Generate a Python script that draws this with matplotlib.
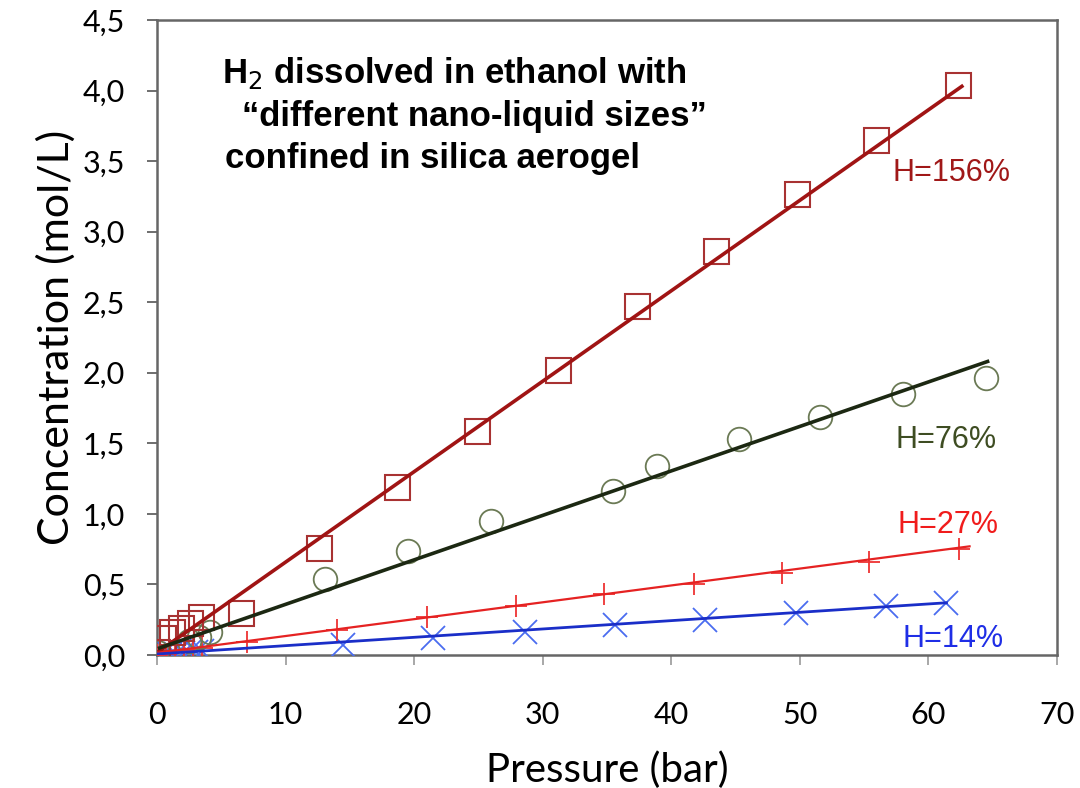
import matplotlib.pyplot as plt

# --- data ---
p_156 = [0.0, 0.5, 1.2, 1.9, 2.6, 3.4, 6.5, 12.6, 18.7, 24.9, 31.2, 37.3, 43.5, 49.8, 55.9, 62.3]
c_156 = [0.02, 0.12, 0.16, 0.19, 0.23, 0.27, 0.30, 0.76, 1.19, 1.59, 2.02, 2.47, 2.86, 3.27, 3.65, 4.04]

p_76 = [0.0, 2.5, 3.3, 4.1, 13.1, 19.5, 26.0, 35.5, 38.9, 45.3, 51.6, 58.0, 64.5]
c_76 = [0.02, 0.10, 0.13, 0.16, 0.54, 0.74, 0.95, 1.16, 1.34, 1.53, 1.69, 1.85, 1.96]

p_27 = [0.0, 0.7, 1.4, 2.1, 2.8, 3.5, 7.0, 14.0, 21.0, 27.9, 34.8, 41.8, 48.6, 55.4, 62.4]
c_27 = [0.0, 0.01, 0.02, 0.03, 0.04, 0.05, 0.09, 0.18, 0.27, 0.35, 0.43, 0.50, 0.58, 0.66, 0.75]

p_14 = [0.0, 0.5, 1.0, 1.5, 2.0, 2.5, 3.0, 3.5, 14.5, 21.5, 28.6, 35.6, 42.6, 49.7, 56.7, 61.4]
c_14 = [0.0, 0.005, 0.01, 0.01, 0.015, 0.02, 0.02, 0.025, 0.07, 0.12, 0.16, 0.21, 0.25, 0.30, 0.35, 0.37]

# linear fits as drawn (start / end points of each line)
fit_156_x = [0.2, 62.6]
fit_156_y = [0.03, 4.03]
fit_76_x = [0.2, 64.6]
fit_76_y = [0.05, 2.08]
fit_27_x = [0.0, 63.2]
fit_27_y = [0.015, 0.77]
fit_14_x = [0.0, 61.4]
fit_14_y = [0.007, 0.37]

x_ticks = [0, 10, 20, 30, 40, 50, 60, 70]
y_ticks = [0.0, 0.5, 1.0, 1.5, 2.0, 2.5, 3.0, 3.5, 4.0, 4.5]

title_lines = ['H$_2$ dissolved in ethanol with',
               '\u201cdifferent nano-liquid sizes\u201d',
               'confined in silica aerogel']

fig = plt.figure(figsize=(10.8, 7.88), dpi=100)
ax = fig.add_axes([0.1454, 0.1688, 0.8333, 0.8058])

# --- markers ---
ax.plot(p_14, c_14, linestyle='none', marker='x', ms=17, mew=1.3, color='#4a6cf0', zorder=3)
ax.plot(p_27, c_27, linestyle='none', marker='+', ms=16, mew=1.3, color='#ee3333', zorder=3)
ax.plot(p_76, c_76, linestyle='none', marker='o', ms=17, mew=1.3, mfc='none', mec='#6b7a55', zorder=3)
ax.plot(p_156, c_156, linestyle='none', marker='s', ms=18, mew=1.5, mfc='none', mec='#a83232', zorder=3)

# --- fit lines ---
ax.plot(fit_156_x, fit_156_y, color='#a01414', lw=2.6, zorder=4)
ax.plot(fit_76_x, fit_76_y, color='#1c2812', lw=2.6, zorder=4)
ax.plot(fit_27_x, fit_27_y, color='#e52222', lw=1.6, zorder=4)
ax.plot(fit_14_x, fit_14_y, color='#1a2ec8', lw=2.0, zorder=4)

# --- labels inside the plot ---
lab_font = dict(family='Liberation Sans', fontsize=22, va='baseline')
ax.text(57.2, 3.36, 'H=156%', color='#a01818', **lab_font)
ax.text(57.4, 1.467, 'H=76%', color='#3e4d22', **lab_font)
ax.text(57.6, 0.865, 'H=27%', color='#f01c1c', **lab_font)
ax.text(58.0, 0.057, 'H=14%', color='#1f2ee6', **lab_font)

# --- title block, one text per line ---
ttl_font = dict(family='Liberation Sans', fontweight='bold', fontsize=25, va='baseline', color='black')
ax.text(5.05, 4.054, title_lines[0], **ttl_font)
ax.text(6.6, 3.749, title_lines[1], **ttl_font)
ax.text(5.29, 3.451, title_lines[2], **ttl_font)

# --- axes ---
ax.set_xlim(0, 70)
ax.set_ylim(0, 4.5)
ax.set_xticks(x_ticks)
ax.set_yticks(y_ticks)
ax.set_xticklabels([str(t) for t in x_ticks], family='Lato', fontsize=22)
ax.set_yticklabels([f'{t:.1f}'.replace('.', ',') for t in y_ticks], family='Lato', fontsize=22)
ax.tick_params(axis='x', direction='out', length=7, width=1.2, color='#999999', pad=26)
ax.tick_params(axis='y', direction='out', length=7, width=1.2, color='#555555', pad=16)

for s in ax.spines.values():
    s.set_color('#666666')
    s.set_linewidth(1.8)

ax.set_xlabel('Pressure (bar)', family='Lato', fontsize=29, labelpad=16)
ax.set_ylabel('Concentration (mol/L)', family='Lato', fontsize=31, labelpad=5)

fig.savefig('out.png', dpi=100)
